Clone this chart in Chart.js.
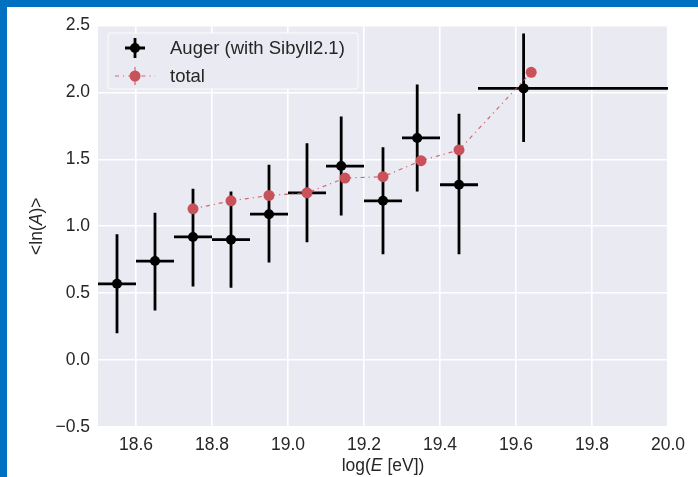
<!DOCTYPE html>
<html>
<head>
<meta charset="utf-8">
<script src="https://cdn.jsdelivr.net/npm/chart.js@4/dist/chart.umd.min.js"></script>
<style>
  html, body { margin: 0; padding: 0; background: #0070c0; width: 698px; height: 477px; overflow: hidden; }
  #panel { position: absolute; left: 7px; top: 7px; width: 691px; height: 470px; background: #ffffff; }
  canvas { display: block; }
</style>
</head>
<body>
<div id="panel"><canvas id="chart" width="691" height="470"></canvas></div>
<script>
// Mean log mass <ln(A)> versus log energy
const xTicks = [18.6, 18.8, 19.0, 19.2, 19.4, 19.6, 19.8, 20.0];
const yTicks = [-0.5, 0.0, 0.5, 1.0, 1.5, 2.0, 2.5];

// Auger measurement (with Sibyll2.1): points, energy bins and uncertainty bounds
const augerX    = [18.55, 18.65, 18.75, 18.85, 18.95, 19.05, 19.14, 19.25, 19.34, 19.45, 19.62];
const augerY    = [0.57, 0.74, 0.92, 0.90, 1.09, 1.25, 1.45, 1.19, 1.66, 1.31, 2.03];
const augerYLow = [0.20, 0.37, 0.55, 0.54, 0.73, 0.88, 1.08, 0.79, 1.26, 0.79, 1.63];
const augerYHigh= [0.94, 1.10, 1.28, 1.26, 1.46, 1.62, 1.82, 1.59, 2.06, 1.84, 2.44];
const binLow    = [18.5, 18.6, 18.7, 18.8, 18.9, 19.0, 19.1, 19.2, 19.3, 19.4, 19.5];
const binHigh   = [18.6, 18.7, 18.8, 18.9, 19.0, 19.1, 19.2, 19.3, 19.4, 19.5, 20.0];

// Model total
const totalX = [18.75, 18.85, 18.95, 19.05, 19.15, 19.25, 19.35, 19.45, 19.64];
const totalY = [1.13, 1.19, 1.23, 1.25, 1.36, 1.37, 1.49, 1.57, 2.15];

const FONT = "'Liberation Sans', Arial, sans-serif";
const TEXT = '#262626';
const RED = '#c9525a';
const RED_LINE = 'rgba(201,82,90,0.85)';
const DASH = [4, 4, 1.2, 4];
const BG = '#eaeaf2';

const plotBackground = {
  id: 'plotBackground',
  beforeDraw(chart) {
    const { ctx, chartArea: a } = chart;
    ctx.save();
    ctx.fillStyle = BG;
    ctx.fillRect(a.left, a.top, a.right - a.left, a.bottom - a.top);
    ctx.restore();
  }
};

const errorBars = {
  id: 'errorBars',
  beforeDatasetsDraw(chart) {
    const { ctx, scales: { x, y } } = chart;
    ctx.save();
    ctx.strokeStyle = '#000';
    ctx.lineWidth = 2.8;
    ctx.lineCap = 'butt';
    for (let i = 0; i < augerX.length; i++) {
      const px = x.getPixelForValue(augerX[i]);
      const py = y.getPixelForValue(augerY[i]);
      ctx.beginPath();
      ctx.moveTo(x.getPixelForValue(binLow[i]), py);
      ctx.lineTo(x.getPixelForValue(binHigh[i]), py);
      ctx.moveTo(px, y.getPixelForValue(augerYLow[i]));
      ctx.lineTo(px, y.getPixelForValue(augerYHigh[i]));
      ctx.stroke();
    }
    ctx.restore();
  }
};

function drawRich(ctx, parts, size) {
  let w = 0;
  parts.forEach(p => {
    ctx.font = (p.i ? 'italic ' : '') + size + 'px ' + FONT;
    p.w = ctx.measureText(p.t).width;
    w += p.w;
  });
  let cx = -w / 2;
  parts.forEach(p => {
    ctx.font = (p.i ? 'italic ' : '') + size + 'px ' + FONT;
    ctx.fillText(p.t, cx, 0);
    cx += p.w;
  });
}

const annotations = {
  id: 'annotations',
  afterDraw(chart) {
    const { ctx, chartArea: a } = chart;
    ctx.save();
    ctx.fillStyle = TEXT;
    ctx.textAlign = 'left';
    ctx.textBaseline = 'middle';

    // x-axis title
    ctx.save();
    ctx.translate((a.left + a.right) / 2, 459);
    drawRich(ctx, [{ t: 'log(' }, { t: 'E', i: true }, { t: ' [eV])' }], 17.5);
    ctx.restore();

    // y-axis title
    ctx.save();
    ctx.translate(30, (a.top + a.bottom) / 2);
    ctx.rotate(-Math.PI / 2);
    drawRich(ctx, [{ t: '<ln(' }, { t: 'A', i: true }, { t: ')>' }], 17.5);
    ctx.restore();

    // legend
    const lx = 101, ly = 26, lw = 250, lh = 56;
    ctx.beginPath();
    ctx.roundRect(lx, ly, lw, lh, 3);
    ctx.fillStyle = BG;
    ctx.fill();
    ctx.strokeStyle = 'rgba(255,255,255,0.85)';
    ctx.lineWidth = 1;
    ctx.stroke();

    // Auger entry: cross-shaped error bar with marker
    const r1 = 41, gx = 128;
    ctx.strokeStyle = '#000';
    ctx.lineWidth = 2.8;
    ctx.beginPath();
    ctx.moveTo(gx - 10, r1); ctx.lineTo(gx + 10, r1);
    ctx.moveTo(gx, r1 - 10); ctx.lineTo(gx, r1 + 10);
    ctx.stroke();
    ctx.fillStyle = '#000';
    ctx.beginPath(); ctx.arc(gx, r1, 5, 0, Math.PI * 2); ctx.fill();

    // total entry: dash-dot line with marker
    const r2 = 69;
    ctx.strokeStyle = RED_LINE;
    ctx.lineWidth = 1.2;
    ctx.setLineDash(DASH);
    ctx.beginPath();
    ctx.moveTo(gx - 20, r2); ctx.lineTo(gx + 20, r2);
    ctx.stroke();
    ctx.setLineDash([]);
    ctx.beginPath();
    ctx.moveTo(gx, r2 - 9); ctx.lineTo(gx, r2 + 9);
    ctx.stroke();
    ctx.fillStyle = RED;
    ctx.beginPath(); ctx.arc(gx, r2, 5.5, 0, Math.PI * 2); ctx.fill();

    ctx.fillStyle = TEXT;
    ctx.font = '18.5px ' + FONT;
    ctx.fillText('Auger (with Sibyll2.1)', 163, r1 + 1);
    ctx.fillText('total', 163, r2 + 1);
    ctx.restore();
  }
};

const fmt = v => {
  const s = Number(v).toFixed(1);
  return s.startsWith('-') ? '\u2212' + s.slice(1) : s;
};

new Chart(document.getElementById('chart'), {
  data: {
    datasets: [
      {
        type: 'scatter',
        label: 'Auger (with Sibyll2.1)',
        data: augerX.map((v, i) => ({ x: v, y: augerY[i] })),
        backgroundColor: '#000',
        borderColor: '#000',
        pointRadius: 5,
        pointBorderWidth: 0,
        pointHoverRadius: 5,
        showLine: false,
        order: 2
      },
      {
        type: 'line',
        label: 'total',
        data: totalX.map((v, i) => ({ x: v, y: totalY[i] })),
        borderColor: RED_LINE,
        borderWidth: 1.2,
        borderDash: DASH,
        backgroundColor: RED,
        pointBackgroundColor: RED,
        pointBorderWidth: 0,
        pointRadius: 5.5,
        pointHoverRadius: 5.5,
        tension: 0,
        fill: false,
        order: 1
      }
    ]
  },
  options: {
    responsive: false,
    animation: false,
    events: [],
    layout: { padding: { top: 17, right: 30, bottom: 0, left: 0 } },
    plugins: { legend: { display: false }, tooltip: { enabled: false } },
    scales: {
      x: {
        type: 'linear',
        min: 18.5,
        max: 20.0,
        afterBuildTicks(s) { s.ticks = xTicks.map(v => ({ value: v })); },
        afterFit(s) { s.height = 50; },
        border: { display: false },
        grid: { color: '#ffffff', lineWidth: 1.6, drawTicks: false },
        ticks: {
          padding: 8,
          color: TEXT,
          font: { family: FONT, size: 17.5 },
          maxRotation: 0,
          autoSkip: false,
          callback: v => fmt(v)
        }
      },
      y: {
        type: 'linear',
        min: -0.5,
        max: 2.5,
        afterBuildTicks(s) { s.ticks = yTicks.map(v => ({ value: v })); },
        afterFit(s) { s.width = 91; },
        border: { display: false },
        grid: { color: '#ffffff', lineWidth: 1.6, drawTicks: false },
        ticks: {
          padding: 8,
          color: TEXT,
          font: { family: FONT, size: 17.5 },
          autoSkip: false,
          callback: v => fmt(v)
        }
      }
    }
  },
  plugins: [plotBackground, errorBars, annotations]
});
</script>
</body>
</html>
